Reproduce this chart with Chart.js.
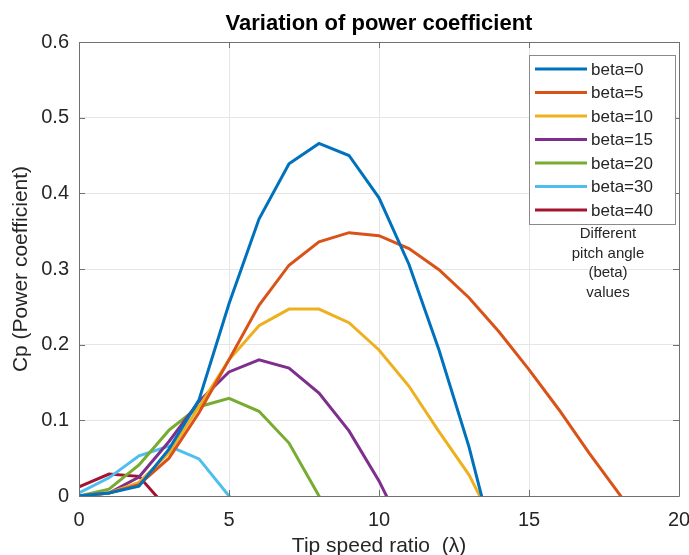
<!DOCTYPE html>
<html>
<head>
<meta charset="utf-8">
<script src="https://cdn.jsdelivr.net/npm/chart.js@4"></script>
<style>
  html, body { margin: 0; padding: 0; background: #fff; }
  #wrap { width: 689px; height: 555px; }
</style>
</head>
<body>
<div id="wrap"><canvas id="chart"></canvas></div>
<script>
// tip speed ratio steps (lambda = 0, 1, 2, ...)
const lambda = [0, 1, 2, 3, 4, 5, 6, 7, 8, 9, 10, 11, 12, 13, 14, 15, 16, 17, 18, 19];

const seriesLabels = ['beta=0', 'beta=5', 'beta=10', 'beta=15', 'beta=20', 'beta=30', 'beta=40'];
const seriesColors = ['#0072BD', '#D95319', '#EDB120', '#7E2F8E', '#77AC30', '#4DBEEE', '#A2142F'];

// Cp values, one per lambda step (negative values get clipped at 0)
const cpBeta0 = [0, 0.004, 0.013, 0.062, 0.127, 0.254, 0.366, 0.439, 0.466, 0.45, 0.394, 0.306, 0.193, 0.065, -0.09];
const cpBeta5 = [0, 0.004, 0.015, 0.05, 0.11, 0.18, 0.252, 0.305, 0.336, 0.348, 0.344, 0.327, 0.299, 0.262, 0.217, 0.167, 0.114, 0.057, 0.003, -0.05];
const cpBeta10 = [0, 0.004, 0.018, 0.057, 0.118, 0.18, 0.225, 0.247, 0.247, 0.229, 0.193, 0.145, 0.085, 0.028, -0.05];
const cpBeta15 = [0, 0.004, 0.025, 0.072, 0.125, 0.164, 0.18, 0.169, 0.136, 0.086, 0.02, -0.06];
const cpBeta20 = [0, 0.009, 0.041, 0.087, 0.118, 0.129, 0.112, 0.07, 0, -0.08];
const cpBeta30 = [0.004, 0.024, 0.053, 0.066, 0.049, 0, -0.05];
const cpBeta40 = [0.012, 0.029, 0.026, -0.019];

const allSeries = [cpBeta0, cpBeta5, cpBeta10, cpBeta15, cpBeta20, cpBeta30, cpBeta40];

const xTicks = [0, 5, 10, 15, 20];
const yTicks = [0, 0.1, 0.2, 0.3, 0.4, 0.5, 0.6];

const chartTitle = 'Variation of power coefficient';
const noteLines = ['Different', 'pitch angle', '(beta)', 'values'];

const textColor = '#262626';
const fontName = '"Liberation Sans", Arial, sans-serif';

const datasets = allSeries.map((values, i) => ({
  label: seriesLabels[i],
  data: values.map((v, k) => ({ x: lambda[k], y: v })),
  borderColor: seriesColors[i],
  backgroundColor: seriesColors[i],
  borderWidth: 3,
  pointRadius: 0,
  tension: 0,
  fill: false
}));

// title over the plot area, box around the axes, inward tick marks, legend box and the side note
const decorations = {
  id: 'decorations',
  afterDatasetsDraw(chart) {
    const ctx = chart.ctx;
    const a = chart.chartArea;
    const xs = chart.scales.x, ys = chart.scales.y;
    ctx.save();

    ctx.fillStyle = '#000';
    ctx.font = 'bold 22px ' + fontName;
    ctx.textAlign = 'center';
    ctx.textBaseline = 'middle';
    ctx.fillText(chartTitle, (a.left + a.right) / 2, 24);

    ctx.strokeStyle = '#707070';
    ctx.lineWidth = 1;
    ctx.beginPath();
    ctx.rect(Math.round(a.left) + 0.5, Math.round(a.top) + 0.5,
      Math.round(a.right - a.left), Math.round(a.bottom - a.top));
    xTicks.forEach(t => {
      const px = Math.round(xs.getPixelForValue(t)) + 0.5;
      ctx.moveTo(px, a.bottom); ctx.lineTo(px, a.bottom - 6);
      ctx.moveTo(px, a.top); ctx.lineTo(px, a.top + 6);
    });
    yTicks.forEach(t => {
      const py = Math.round(ys.getPixelForValue(t)) + 0.5;
      ctx.moveTo(a.left, py); ctx.lineTo(a.left + 6, py);
      ctx.moveTo(a.right, py); ctx.lineTo(a.right - 6, py);
    });
    ctx.stroke();

    // legend
    const lx = 529.5, ly = 55.5, lw = 146, lh = 169;
    ctx.fillStyle = '#fff';
    ctx.fillRect(lx, ly, lw, lh);
    ctx.strokeStyle = '#8a8a8a';
    ctx.strokeRect(lx, ly, lw, lh);
    ctx.font = '17px ' + fontName;
    ctx.textAlign = 'left';
    chart.data.datasets.forEach((ds, i) => {
      const y = 69 + i * 23.5;
      ctx.strokeStyle = ds.borderColor;
      ctx.lineWidth = 3;
      ctx.beginPath();
      ctx.moveTo(535, y); ctx.lineTo(587, y);
      ctx.stroke();
      ctx.fillStyle = textColor;
      ctx.fillText(ds.label, 591, y + 1);
    });

    // note under the legend
    ctx.font = '15px ' + fontName;
    ctx.textAlign = 'center';
    noteLines.forEach((line, i) => {
      ctx.fillText(line, 608, 234 + i * 19.5);
    });
    ctx.restore();
  }
};

const config = {
  type: 'line',
  data: { datasets: datasets },
  options: {
    responsive: true,
    maintainAspectRatio: false,
    animation: false,
    layout: { padding: { top: 42, right: 10 } },
    plugins: {
      legend: { display: false },
      tooltip: { enabled: false },
      title: { display: false }
    },
    scales: {
      x: {
        type: 'linear',
        min: 0,
        max: 20,
        afterBuildTicks: scale => { scale.ticks = xTicks.map(v => ({ value: v })); },
        afterFit: scale => {
          scale.height = 59;
          scale.paddingLeft = 0;
          scale.paddingRight = 0;
        },
        ticks: {
          color: textColor,
          font: { family: fontName, size: 20 },
          padding: 12,
          maxRotation: 0
        },
        grid: { color: '#e6e6e6', drawTicks: false },
        border: { display: false },
        title: {
          display: true,
          text: 'Tip speed ratio  (λ)',
          color: textColor,
          font: { family: fontName, size: 21 },
          padding: { top: 0, bottom: -4 }
        }
      },
      y: {
        min: 0,
        max: 0.6,
        afterBuildTicks: scale => { scale.ticks = yTicks.map(v => ({ value: v })); },
        afterFit: scale => {
          scale.width = 79;
          scale.paddingTop = 0;
        },
        ticks: {
          color: textColor,
          font: { family: fontName, size: 20 },
          padding: 10,
          callback: v => String(Math.round(v * 10) / 10)
        },
        grid: { color: '#e6e6e6', drawTicks: false },
        border: { display: false },
        title: {
          display: true,
          text: 'Cp (Power coefficient)',
          color: textColor,
          font: { family: fontName, size: 21 },
          padding: { top: 9, bottom: 0 }
        }
      }
    }
  },
  plugins: [decorations]
};

const chart = new Chart(document.getElementById('chart'), config);
</script>
</body>
</html>
